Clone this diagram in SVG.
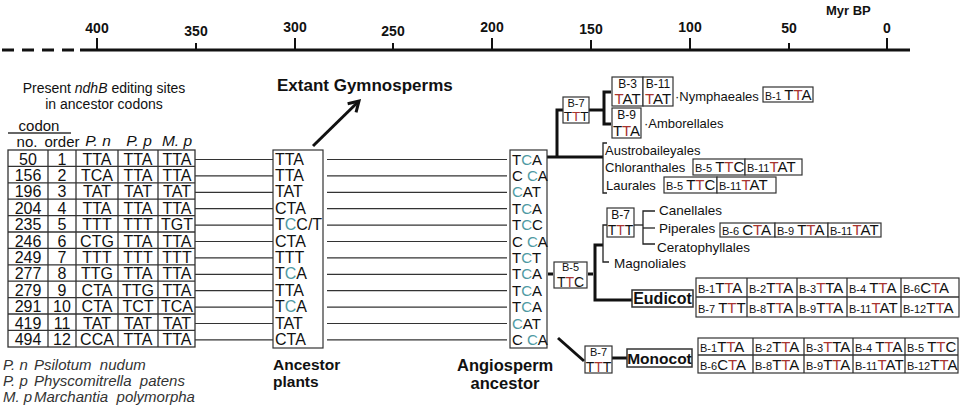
<svg xmlns="http://www.w3.org/2000/svg" width="964" height="416" viewBox="0 0 964 416">
<defs>
<style>
text{font-family:"Liberation Sans",Arial,sans-serif;fill:#111}
.ax{font-size:14px;font-weight:bold;text-anchor:middle}
.cell{font-size:16px;text-anchor:middle}
.cod{font-size:15px}
.pc{font-size:16px}
.bl{font-size:11px}
.lbl{font-size:13px}
.bold{font-weight:bold}
.it{font-style:italic;font-size:15px;fill:#333;white-space:pre}
.r{fill:#a8342f}
.g{fill:#4f9aa3}
.box{fill:#fff;stroke:#333;stroke-width:1.2}
.grid{stroke:#333;stroke-width:1.3;fill:none}
.thin{stroke:#222;stroke-width:1.3;fill:none}
.thick{stroke:#111;stroke-width:3;fill:none}
.row{stroke:#333;stroke-width:1.2}
</style>
<marker id="arr" markerUnits="userSpaceOnUse" markerWidth="16" markerHeight="16" refX="0" refY="0" viewBox="-12 -8 14 16" orient="auto">
<path d="M-10,-6 L0,0 L-10,6" fill="none" stroke="#111" stroke-width="3"/>
</marker>
</defs>
<rect width="964" height="416" fill="#fff"/>

<g id="axis">
<line x1="2" y1="50" x2="78" y2="50" stroke="#111" stroke-width="3" stroke-dasharray="12 8"/>
<line x1="80" y1="50" x2="910" y2="50" stroke="#111" stroke-width="3"/>
<g stroke="#111" stroke-width="2">
<line x1="97" y1="38" x2="97" y2="50"/><line x1="196" y1="43" x2="196" y2="50"/>
<line x1="295" y1="38" x2="295" y2="50"/><line x1="393" y1="43" x2="393" y2="50"/>
<line x1="492" y1="38" x2="492" y2="50"/><line x1="591" y1="40" x2="591" y2="50"/>
<line x1="690" y1="38" x2="690" y2="50"/><line x1="789" y1="43" x2="789" y2="50"/>
<line x1="887" y1="38" x2="887" y2="50"/>
</g>
<text class="ax" x="97" y="33">400</text><text class="ax" x="196" y="36">350</text>
<text class="ax" x="295" y="32">300</text><text class="ax" x="393" y="36">250</text>
<text class="ax" x="492" y="32">200</text><text class="ax" x="591" y="34">150</text>
<text class="ax" x="690" y="32">100</text><text class="ax" x="789" y="33">50</text>
<text class="ax" x="887" y="33">0</text>
<text x="826" y="15" style="font-size:13px;font-weight:bold">Myr BP</text>
</g>

<g id="table">
<text x="104" y="93" style="font-size:14px;text-anchor:middle">Present <tspan font-style="italic">ndhB</tspan> editing sites</text>
<text x="104" y="109" style="font-size:14px;text-anchor:middle">in ancestor codons</text>
<text x="39" y="131" style="font-size:15px;text-anchor:middle">codon</text>
<line x1="8" y1="133" x2="71" y2="133" class="grid"/>
<text x="27" y="147" style="font-size:15px;text-anchor:middle">no.</text>
<text x="62" y="147" style="font-size:15px;text-anchor:middle">order</text>
<text x="98" y="146" style="font-size:15.5px;font-style:italic;text-anchor:middle">P. n</text>
<text x="139" y="146" style="font-size:15.5px;font-style:italic;text-anchor:middle">P. p</text>
<text x="177" y="146" style="font-size:15.5px;font-style:italic;text-anchor:middle">M. p</text>
<rect x="8" y="150" width="187" height="197" class="grid"/>
<g class="grid">
<line x1="48" y1="150" x2="48" y2="347"/><line x1="76" y1="150" x2="76" y2="347"/>
<line x1="118" y1="150" x2="118" y2="347"/><line x1="158" y1="150" x2="158" y2="347"/>
<line x1="8" y1="166.4" x2="195" y2="166.4"/><line x1="8" y1="182.8" x2="195" y2="182.8"/>
<line x1="8" y1="199.2" x2="195" y2="199.2"/><line x1="8" y1="215.6" x2="195" y2="215.6"/>
<line x1="8" y1="232" x2="195" y2="232"/><line x1="8" y1="248.4" x2="195" y2="248.4"/>
<line x1="8" y1="264.8" x2="195" y2="264.8"/><line x1="8" y1="281.2" x2="195" y2="281.2"/>
<line x1="8" y1="297.6" x2="195" y2="297.6"/><line x1="8" y1="314" x2="195" y2="314"/>
<line x1="8" y1="330.4" x2="195" y2="330.4"/>
</g>
<g class="cell">
<text x="28" y="164.5">50</text><text x="62" y="164.5">1</text><text x="97" y="164.5">TTA</text><text x="138" y="164.5">TTA</text><text x="177" y="164.5">TTA</text>
<text x="28" y="180.9">156</text><text x="62" y="180.9">2</text><text x="97" y="180.9">TCA</text><text x="138" y="180.9">TTA</text><text x="177" y="180.9">TTA</text>
<text x="28" y="197.3">196</text><text x="62" y="197.3">3</text><text x="97" y="197.3">TAT</text><text x="138" y="197.3">TAT</text><text x="177" y="197.3">TAT</text>
<text x="28" y="213.7">204</text><text x="62" y="213.7">4</text><text x="97" y="213.7">TTA</text><text x="138" y="213.7">TTA</text><text x="177" y="213.7">TTA</text>
<text x="28" y="230.1">235</text><text x="62" y="230.1">5</text><text x="97" y="230.1">TTT</text><text x="138" y="230.1">TTT</text><text x="177" y="230.1">TGT</text>
<text x="28" y="246.5">246</text><text x="62" y="246.5">6</text><text x="97" y="246.5">CTG</text><text x="138" y="246.5">TTA</text><text x="177" y="246.5">TTA</text>
<text x="28" y="262.9">249</text><text x="62" y="262.9">7</text><text x="97" y="262.9">TTT</text><text x="138" y="262.9">TTT</text><text x="177" y="262.9">TTT</text>
<text x="28" y="279.3">277</text><text x="62" y="279.3">8</text><text x="97" y="279.3">TTG</text><text x="138" y="279.3">TTA</text><text x="177" y="279.3">TTA</text>
<text x="28" y="295.7">279</text><text x="62" y="295.7">9</text><text x="97" y="295.7">CTA</text><text x="138" y="295.7">TTG</text><text x="177" y="295.7">TTA</text>
<text x="28" y="312.1">291</text><text x="62" y="312.1">10</text><text x="97" y="312.1">CTA</text><text x="138" y="312.1">TCT</text><text x="177" y="312.1">TCA</text>
<text x="28" y="328.5">419</text><text x="62" y="328.5">11</text><text x="97" y="328.5">TAT</text><text x="138" y="328.5">TAT</text><text x="177" y="328.5">TAT</text>
<text x="28" y="344.9">494</text><text x="62" y="344.9">12</text><text x="97" y="344.9">CCA</text><text x="138" y="344.9">TTA</text><text x="177" y="344.9">TTA</text>
</g>
</g>

<g id="legend">
<text class="it" x="3" y="370">P. n</text><text class="it" x="34" y="370">Psilotum  nudum</text>
<text class="it" x="3" y="386">P. p</text><text class="it" x="34" y="386">Physcomitrella  patens</text>
<text class="it" x="3" y="402">M. p</text><text class="it" x="34" y="402">Marchantia  polymorpha</text>
</g>

<g id="connectors">
<g class="row">
<line x1="195" y1="159.5" x2="273" y2="159.5"/><line x1="195" y1="175.9" x2="273" y2="175.9"/>
<line x1="195" y1="192.3" x2="273" y2="192.3"/><line x1="195" y1="208.7" x2="273" y2="208.7"/>
<line x1="195" y1="225.1" x2="273" y2="225.1"/><line x1="195" y1="241.5" x2="273" y2="241.5"/>
<line x1="195" y1="257.9" x2="273" y2="257.9"/><line x1="195" y1="274.3" x2="273" y2="274.3"/>
<line x1="195" y1="290.7" x2="273" y2="290.7"/><line x1="195" y1="307.1" x2="273" y2="307.1"/>
<line x1="195" y1="323.5" x2="273" y2="323.5"/><line x1="195" y1="339.9" x2="273" y2="339.9"/>
<line x1="327" y1="159.5" x2="507" y2="159.5"/><line x1="327" y1="175.9" x2="507" y2="175.9"/>
<line x1="327" y1="192.3" x2="507" y2="192.3"/><line x1="327" y1="208.7" x2="507" y2="208.7"/>
<line x1="327" y1="225.1" x2="507" y2="225.1"/><line x1="327" y1="241.5" x2="507" y2="241.5"/>
<line x1="327" y1="257.9" x2="507" y2="257.9"/><line x1="327" y1="274.3" x2="507" y2="274.3"/>
<line x1="327" y1="290.7" x2="507" y2="290.7"/><line x1="327" y1="307.1" x2="507" y2="307.1"/>
<line x1="327" y1="323.5" x2="507" y2="323.5"/><line x1="327" y1="339.9" x2="507" y2="339.9"/>
</g>
<line x1="313" y1="146" x2="359" y2="101" stroke="#111" stroke-width="3" marker-end="url(#arr)"/>
<polyline class="thick" points="547,157 603,157"/>
<polyline class="thick" points="557,157 557,110 563,110"/>
<polyline class="thick" points="589,110 604,110"/>
<polyline class="thick" points="611,92 604,92 604,124 611,124"/>
<polyline class="thin" points="607,143 603,143 603,193 607,193"/>
<line class="thick" x1="548" y1="274" x2="553" y2="274"/>
<line class="thick" x1="588" y1="274" x2="593" y2="274"/>
<polyline class="thick" points="603,245 595,245 595,300 632,300"/>
<polyline class="thin" points="607,225 603,225 603,262 609,262"/>
<polyline class="thin" points="634,225 643,225"/>
<polyline class="thin" points="655,211 643,211 643,244 655,244"/>
<line class="thin" x1="643" y1="228" x2="655" y2="228"/>
<line class="thick" x1="558" y1="338" x2="584" y2="361"/>
<line class="thick" x1="612" y1="358" x2="627" y2="358"/>
</g>

<g id="ancestor-plants">
<rect class="box" x="273" y="150" width="50" height="198"/>
<g class="pc">
<text x="275" y="164.5">TTA</text><text x="275" y="180.9">TTA</text><text x="275" y="197.3">TAT</text>
<text x="275" y="213.7">CTA</text><text x="275" y="230.1">T<tspan class="g">C</tspan>C/T</text>
<text x="275" y="246.5">CTA</text><text x="275" y="262.9">TTT</text><text x="275" y="279.3">T<tspan class="g">C</tspan>A</text>
<text x="275" y="295.7">TTA</text><text x="275" y="312.1">T<tspan class="g">C</tspan>A</text>
<text x="275" y="328.5">TAT</text><text x="275" y="344.9">CTA</text>
</g>
<text class="bold" x="273" y="370" style="font-size:15.5px">Ancestor</text>
<text class="bold" x="273" y="387" style="font-size:15.5px">plants</text>
</g>

<g id="extant-gymnosperms">
<text class="bold" x="277" y="91" style="font-size:17px">Extant Gymnosperms</text>
</g>

<g id="angiosperm-ancestor">
<rect class="box" x="510" y="150" width="37" height="198"/>
<g class="cod">
<text x="512" y="164.5">T<tspan class="g">C</tspan>A</text>
<text x="512" y="180.9">C <tspan class="g">C</tspan>A</text>
<text x="512" y="197.3"><tspan class="g">C</tspan>AT</text>
<text x="512" y="213.7">T<tspan class="g">C</tspan>A</text>
<text x="512" y="230.1">T<tspan class="g">C</tspan>C</text>
<text x="512" y="246.5">C <tspan class="g">C</tspan>A</text>
<text x="512" y="262.9">T<tspan class="g">C</tspan>T</text>
<text x="512" y="279.3">T<tspan class="g">C</tspan>A</text>
<text x="512" y="295.7">T<tspan class="g">C</tspan>A</text>
<text x="512" y="312.1">T<tspan class="g">C</tspan>A</text>
<text x="512" y="328.5"><tspan class="g">C</tspan>AT</text>
<text x="512" y="344.9">C <tspan class="g">C</tspan>A</text>
</g>
<text class="bold" x="457" y="371" style="font-size:16.5px">Angiosperm</text>
<text class="bold" x="505" y="389" style="font-size:16.5px;text-anchor:middle">ancestor</text>
</g>

<g id="b7-top">
<rect class="box" x="563" y="97" width="26" height="26"/>
<text class="bl" x="576" y="107" text-anchor="middle">B-7</text>
<text x="576" y="121" text-anchor="middle" style="font-size:13.5px">T<tspan class="r">T</tspan>T</text>
</g>

<g id="nymphaeales">
<rect class="box" x="612" y="77" width="31" height="29"/>
<rect class="box" x="643" y="77" width="30" height="29"/>
<text class="bl" x="627.5" y="88" text-anchor="middle" style="font-size:12px">B-3</text>
<text class="cod" x="627.5" y="104" text-anchor="middle"><tspan class="r">T</tspan>AT</text>
<text class="bl" x="658" y="88" text-anchor="middle" style="font-size:12px">B-11</text>
<text class="cod" x="658" y="104" text-anchor="middle"><tspan class="r">T</tspan>AT</text>
<text class="lbl" x="675" y="101">·Nymphaeales</text>
<rect class="box" x="763" y="87" width="50" height="15"/>
<text x="765" y="100"><tspan style="font-size:10.5px">B-1 </tspan><tspan class="cod">T<tspan class="r">T</tspan>A</tspan></text>
</g>

<g id="amborellales">
<rect class="box" x="612" y="108" width="29" height="30"/>
<text class="bl" x="626.5" y="119" text-anchor="middle" style="font-size:12px">B-9</text>
<text class="cod" x="626.5" y="136" text-anchor="middle">T<tspan class="r">T</tspan>A</text>
<text class="lbl" x="644" y="128">·Amborellales</text>
</g>

<g id="magnoliids">
<text class="lbl" x="605" y="155">Austrobaileyales</text>
<text class="lbl" x="605" y="172">Chloranthales</text>
<text class="lbl" x="606" y="190">Laurales</text>
<rect class="box" x="693" y="159" width="52" height="16"/>
<rect class="box" x="745" y="159" width="57" height="16"/>
<text x="695" y="172"><tspan class="bl">B-5 </tspan><tspan class="cod">T<tspan class="r">T</tspan>C</tspan></text>
<text x="747" y="172"><tspan class="bl">B-11</tspan><tspan class="cod"><tspan class="r">T</tspan>AT</tspan></text>
<rect class="box" x="664" y="177" width="53" height="16"/>
<rect class="box" x="717" y="177" width="59" height="16"/>
<text x="666" y="190"><tspan class="bl">B-5 </tspan><tspan class="cod">T<tspan class="r">T</tspan>C</tspan></text>
<text x="719" y="190"><tspan class="bl">B-11</tspan><tspan class="cod"><tspan class="r">T</tspan>AT</tspan></text>
</g>

<g id="b5">
<rect class="box" x="554" y="262" width="33" height="26"/>
<text class="bl" x="570.5" y="271" text-anchor="middle">B-5</text>
<text x="570.5" y="287" text-anchor="middle" style="font-size:14px">T<tspan class="r">T</tspan>C</text>
</g>

<g id="b7-mid">
<rect class="box" x="607" y="208" width="27" height="29"/>
<text class="bl" x="620.5" y="219" text-anchor="middle" style="font-size:12px">B-7</text>
<text x="620.5" y="235" text-anchor="middle" style="font-size:14px">T<tspan class="r">T</tspan>T</text>
</g>

<g id="canellales-piperales">
<text class="lbl" x="659" y="215" style="font-size:13.5px">Canellales</text>
<text class="lbl" x="659" y="233" style="font-size:13.5px">Piperales</text>
<text class="lbl" x="657" y="252" style="font-size:13.5px">Ceratophyllales</text>
<text class="lbl" x="614" y="268" style="font-size:13.5px">Magnoliales</text>
<rect class="box" x="720" y="223" width="55" height="14"/>
<rect class="box" x="775" y="223" width="53" height="14"/>
<rect class="box" x="828" y="223" width="53" height="14"/>
<text x="722" y="235"><tspan class="bl">B-6 </tspan><tspan class="cod">C<tspan class="r">T</tspan>A</tspan></text>
<text x="777" y="235"><tspan class="bl">B-9 </tspan><tspan class="cod">T<tspan class="r">T</tspan>A</tspan></text>
<text x="830" y="235"><tspan class="bl">B-11</tspan><tspan class="cod"><tspan class="r">T</tspan>AT</tspan></text>
</g>

<g id="eudicot">
<rect class="box" x="632" y="290" width="61" height="17" style="stroke-width:1.5"/>
<text class="bold" x="662.5" y="304" text-anchor="middle" style="font-size:16px">Eudicot</text>
<rect class="box" x="696" y="278" width="263" height="39"/>
<g class="grid">
<line x1="696" y1="297" x2="959" y2="297"/>
<line x1="747" y1="278" x2="747" y2="317"/><line x1="797" y1="278" x2="797" y2="317"/>
<line x1="847" y1="278" x2="847" y2="317"/><line x1="901" y1="278" x2="901" y2="317"/>
</g>
<text x="698" y="293"><tspan class="bl">B-1</tspan><tspan class="cod">T<tspan class="r">T</tspan>A</tspan></text>
<text x="749" y="293"><tspan class="bl">B-2</tspan><tspan class="cod">T<tspan class="r">T</tspan>A</tspan></text>
<text x="799" y="293"><tspan class="bl">B-3</tspan><tspan class="cod"><tspan class="r">T</tspan>TA</tspan></text>
<text x="849" y="293"><tspan class="bl">B-4 </tspan><tspan class="cod">T<tspan class="r">T</tspan>A</tspan></text>
<text x="903" y="293"><tspan class="bl">B-6</tspan><tspan class="cod">C<tspan class="r">T</tspan>A</tspan></text>
<text x="698" y="313"><tspan class="bl">B-7 </tspan><tspan class="cod">T<tspan class="r">T</tspan>T</tspan></text>
<text x="749" y="313"><tspan class="bl">B-8</tspan><tspan class="cod">T<tspan class="r">T</tspan>A</tspan></text>
<text x="799" y="313"><tspan class="bl">B-9</tspan><tspan class="cod">T<tspan class="r">T</tspan>A</tspan></text>
<text x="849" y="313"><tspan class="bl">B-11</tspan><tspan class="cod"><tspan class="r">T</tspan>AT</tspan></text>
<text x="903" y="313"><tspan class="bl">B-12</tspan><tspan class="cod">T<tspan class="r">T</tspan>A</tspan></text>
</g>

<g id="b7-monocot">
<rect class="box" x="585" y="346" width="27" height="27"/>
<text class="bl" x="598.5" y="356" text-anchor="middle">B-7</text>
<text x="598.5" y="372" text-anchor="middle" style="font-size:14px">T<tspan class="r">T</tspan>T</text>
</g>

<g id="monocot">
<rect class="box" x="627" y="349" width="65" height="18" style="stroke-width:1.5"/>
<text class="bold" x="659.5" y="364" text-anchor="middle" style="font-size:15.5px">Monocot</text>
<rect class="box" x="698" y="338" width="260" height="35"/>
<g class="grid">
<line x1="698" y1="355" x2="958" y2="355"/>
<line x1="753" y1="338" x2="753" y2="373"/><line x1="804" y1="338" x2="804" y2="373"/>
<line x1="853" y1="338" x2="853" y2="373"/><line x1="905" y1="338" x2="905" y2="373"/>
</g>
<text x="700" y="352"><tspan class="bl">B-1</tspan><tspan class="cod">T<tspan class="r">T</tspan>A</tspan></text>
<text x="755" y="352"><tspan class="bl">B-2</tspan><tspan class="cod">T<tspan class="r">T</tspan>A</tspan></text>
<text x="806" y="352"><tspan class="bl">B-3</tspan><tspan class="cod"><tspan class="r">T</tspan>TA</tspan></text>
<text x="855" y="352"><tspan class="bl">B-4 </tspan><tspan class="cod">T<tspan class="r">T</tspan>A</tspan></text>
<text x="907" y="352"><tspan class="bl">B-5 </tspan><tspan class="cod">T<tspan class="r">T</tspan>C</tspan></text>
<text x="700" y="370"><tspan class="bl">B-6</tspan><tspan class="cod">C<tspan class="r">T</tspan>A</tspan></text>
<text x="755" y="370"><tspan class="bl">B-8</tspan><tspan class="cod">T<tspan class="r">T</tspan>A</tspan></text>
<text x="806" y="370"><tspan class="bl">B-9</tspan><tspan class="cod">T<tspan class="r">T</tspan>A</tspan></text>
<text x="855" y="370"><tspan class="bl">B-11</tspan><tspan class="cod"><tspan class="r">T</tspan>AT</tspan></text>
<text x="907" y="370"><tspan class="bl">B-12</tspan><tspan class="cod">T<tspan class="r">T</tspan>A</tspan></text>
</g>
</svg>
